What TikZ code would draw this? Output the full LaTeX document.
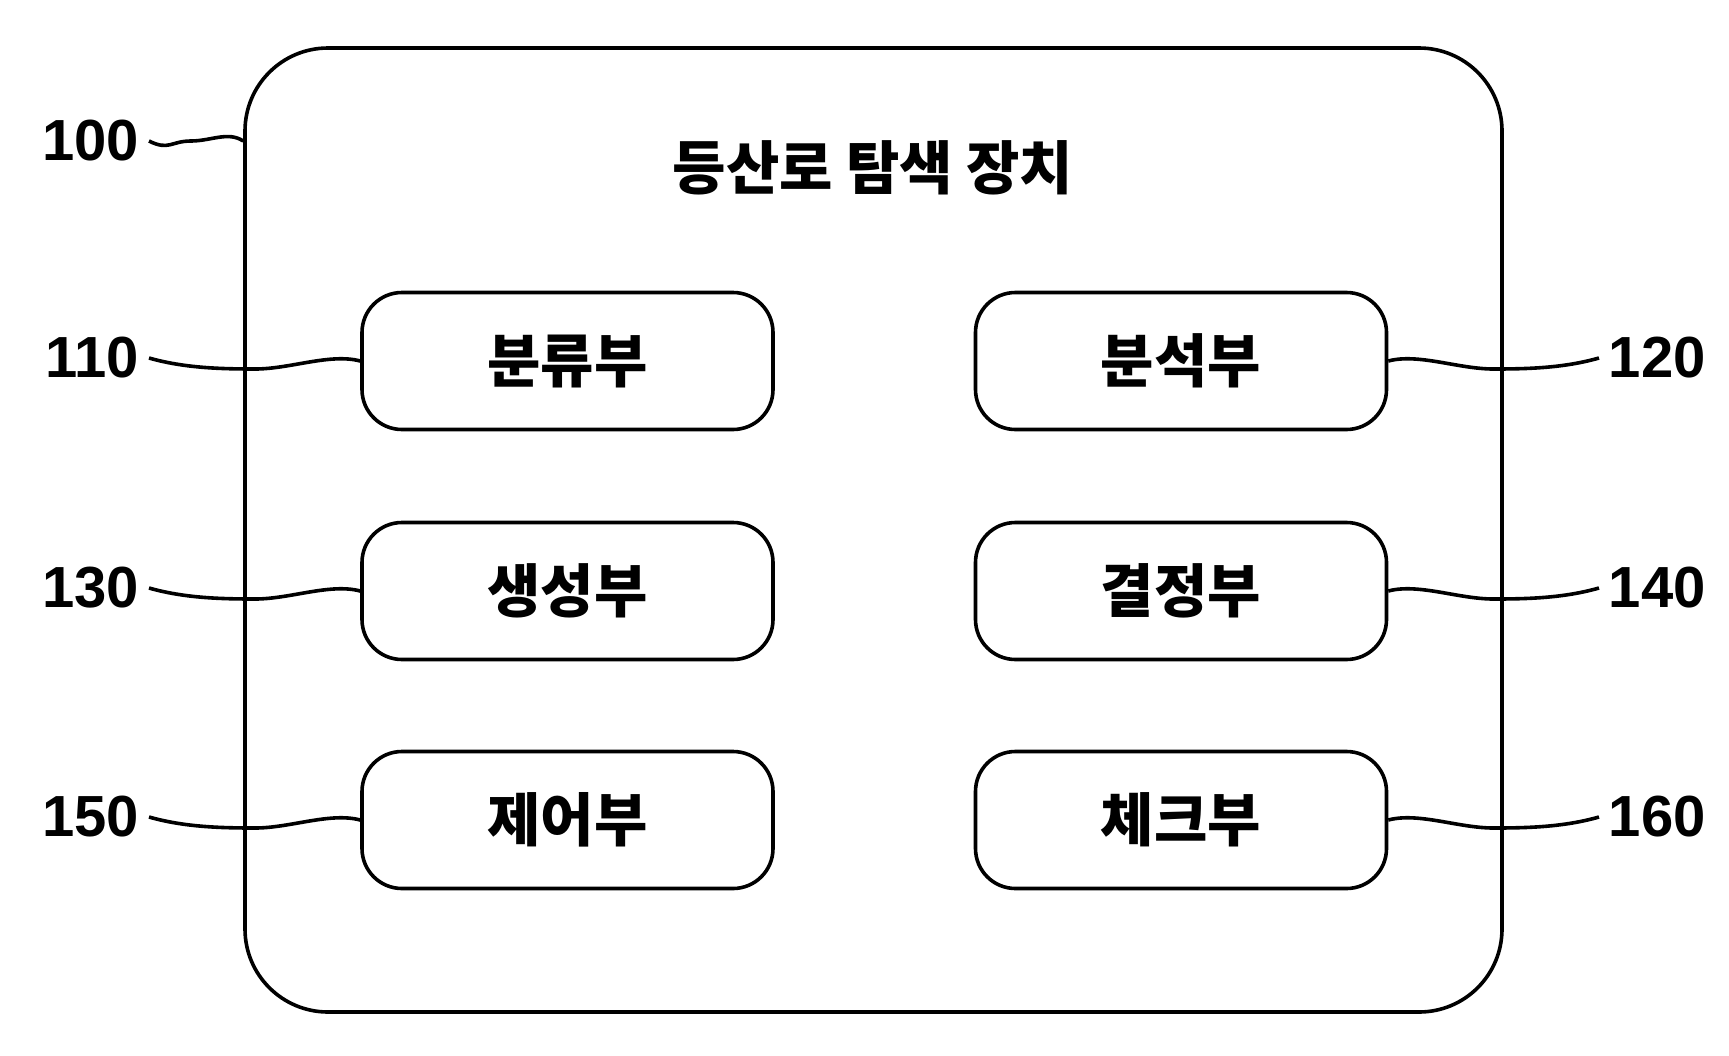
\documentclass[tikz,border=0pt]{standalone}
\usepackage{fontspec}
\newfontfamily\kr{Noto Sans CJK KR}[BoldFont={Noto Sans CJK KR Black}]
\newfontfamily\num{Liberation Sans}
\begin{document}
\begin{tikzpicture}[x=1pt,y=-1pt,line width=3.6pt,
  unit/.style={draw,rounded corners=40pt,minimum width=411pt,minimum height=137pt,font=\kr\bfseries\fontsize{58}{58}\selectfont},
  lbl/.style={font=\num\bfseries\fontsize{58}{58}\selectfont,inner sep=0pt}]
\useasboundingbox (0,0) rectangle (1729,1055);
\node[draw,rounded corners=83pt,minimum width=1257pt,minimum height=964pt] (outer) at (873.5,530) {};
\node[font=\kr\bfseries\fontsize{58}{58}\selectfont] (title) at (873,168) {등산로 탐색 장치};
\node[unit] (b110) at (567.5,361) {분류부};
\node[unit] (b120) at (1181,361) {분석부};
\node[unit] (b130) at (567.5,591) {생성부};
\node[unit] (b140) at (1181,591) {결정부};
\node[unit] (b150) at (567.5,820) {제어부};
\node[unit] (b160) at (1181,820) {체크부};
\node[lbl,anchor=east] (l100) at (141,141) {100};
\node[lbl,anchor=east] (l110) at (141,358) {110};
\node[lbl,anchor=east] (l130) at (141,588) {130};
\node[lbl,anchor=east] (l150) at (141,817) {150};
\node[lbl,anchor=west] (l120) at (1607,358) {120};
\node[lbl,anchor=west] (l140) at (1607,588) {140};
\node[lbl,anchor=west] (l160) at (1607,817) {160};
\coordinate (e100) at (outer.west |- 0,141);
\draw (l100.east)+(8,0) .. controls +(20,10) and +(-20,0) .. ++(50,0) .. controls +(20,0) and +(-15,-10) .. (e100);
\foreach \n in {110,130,150}{
  \draw ([xshift=8pt]l\n.east) .. controls +(35,10) and +(-35,0) .. ([xshift=-105pt,yshift=-8pt]b\n.west) .. controls +(35,0) and +(-30,-8) .. (b\n.west);}
\foreach \n in {120,140,160}{
  \draw (b\n.east) .. controls +(30,-8) and +(-35,0) .. ([xshift=105pt,yshift=-8pt]b\n.east) .. controls +(35,0) and +(-35,10) .. ([xshift=-8pt]l\n.west);}
\end{tikzpicture}
\end{document}
